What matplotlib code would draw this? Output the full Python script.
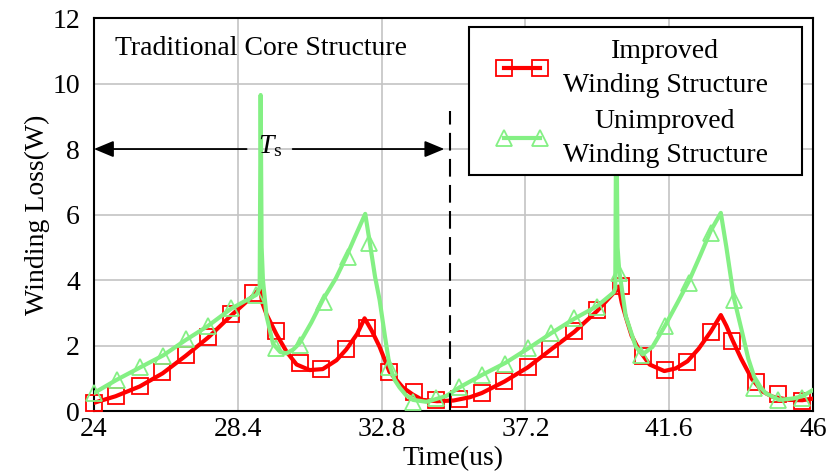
#Imports
import numpy as np
import matplotlib.pyplot as plt
from matplotlib.lines import Line2D
from matplotlib.patches import Rectangle

plt.rcParams['font.family'] = 'Liberation Serif'
plt.rcParams['mathtext.fontset'] = 'custom'
plt.rcParams['mathtext.rm'] = 'Liberation Serif'
plt.rcParams['mathtext.it'] = 'Liberation Serif:italic'

#Data
#Improved winding structure (red) - curve
Red_X = [24.0, 24.66, 25.4, 26.1, 26.8, 27.5, 28.2, 28.87, 29.08, 29.15, 29.28, 29.58, 29.9, 30.2,
         30.6, 31.0, 31.42, 31.72, 32.05, 32.28, 32.5, 32.74, 33.04, 33.45, 33.76, 34.05, 34.5,
         35.0, 35.5, 35.87, 36.56, 37.27, 37.96, 38.7, 39.39, 39.97, 40.05, 40.15, 40.27, 40.45,
         40.68, 41.0, 41.45, 41.8, 42.16, 42.5, 42.87, 43.18, 43.35, 43.53, 43.8, 44.13, 44.45,
         44.75, 45.27, 45.67, 46.0]
Red_Y = [0.25, 0.45, 0.75, 1.15, 1.68, 2.25, 2.92, 3.52, 3.75, 3.3, 2.95, 2.35, 1.8, 1.42,
         1.25, 1.28, 1.55, 1.88, 2.35, 2.83, 2.45, 1.96, 1.2, 0.72, 0.5, 0.34, 0.3,
         0.32, 0.42, 0.55, 0.9, 1.33, 1.86, 2.42, 3.05, 3.68, 3.8, 3.3, 2.88, 2.3,
         1.86, 1.42, 1.22, 1.3, 1.52, 1.9, 2.42, 2.93, 2.6, 2.18, 1.6, 0.98, 0.6,
         0.44, 0.34, 0.33, 0.38]
#Improved winding structure (red) - markers
Red_MX = [24.0, 24.66, 25.41, 26.09, 26.81, 27.5, 28.18, 28.87, 29.58, 30.29, 30.96, 31.72, 32.35,
          33.04, 33.79, 34.47, 35.18, 35.87, 36.56, 37.27, 37.96, 38.7, 39.39, 40.12, 40.79, 41.47,
          42.16, 42.87, 43.53, 44.25, 44.94, 45.67]
Red_MY = [0.25, 0.46, 0.76, 1.18, 1.71, 2.27, 2.95, 3.59, 2.44, 1.46, 1.27, 1.89, 2.54,
          1.19, 0.59, 0.34, 0.36, 0.56, 0.92, 1.35, 1.88, 2.44, 3.08, 3.82, 1.68, 1.25,
          1.49, 2.42, 2.15, 0.9, 0.52, 0.31]

#Unimproved winding structure (green) - curve
Green_X = [24.0, 24.69, 25.41, 26.12, 26.81, 27.49, 28.19, 28.97, 29.07, 29.1, 29.13, 29.17, 29.28,
           29.48, 29.7, 29.89, 30.1, 30.29, 30.65, 31.0, 31.4, 31.72, 32.0, 32.3, 32.43, 32.6,
           32.74, 32.9, 33.04, 33.2, 33.35, 33.55, 33.76, 34.17, 34.45, 34.78, 35.18, 35.87, 36.59,
           37.27, 37.98, 38.7, 39.39, 39.9, 39.95, 39.98, 40.02, 40.07, 40.27, 40.58, 40.79, 41.09,
           41.47, 41.85, 42.21, 42.55, 42.87, 43.18, 43.35, 43.58, 43.84, 44.02, 44.2, 44.4, 44.56,
           44.96, 45.37, 45.67, 46.0]
Green_Y = [0.55, 0.95, 1.33, 1.7, 2.17, 2.6, 3.12, 3.55, 3.75, 9.65, 5.0, 4.0, 2.9,
           2.05, 1.8, 1.76, 1.88, 2.07, 2.7, 3.39, 4.05, 4.71, 5.35, 6.02, 5.2, 4.1,
           3.39, 2.3, 1.4, 0.95, 0.72, 0.48, 0.34, 0.28, 0.36, 0.46, 0.72, 1.1, 1.47,
           1.9, 2.37, 2.82, 3.2, 3.62, 3.75, 9.6, 5.0, 4.3, 2.9, 1.96, 1.73, 1.96,
           2.6, 3.3, 3.98, 4.75, 5.5, 6.05, 5.0, 3.45, 2.37, 1.6, 1.05, 0.72, 0.54,
           0.34, 0.38, 0.45, 0.64]
#Unimproved winding structure (green) - markers
Green_MX = [24.0, 24.69, 25.41, 26.12, 26.81, 27.49, 28.19, 28.97, 29.58, 30.29, 31.04, 31.77, 32.43,
            33.04, 33.76, 34.45, 35.18, 35.87, 36.59, 37.27, 37.98, 38.7, 39.39, 40.07, 40.73, 41.47,
            42.21, 42.87, 43.58, 44.2, 44.94, 45.67]
Green_MY = [0.56, 0.95, 1.35, 1.68, 2.19, 2.6, 3.14, 3.54, 1.91, 2.02, 3.34, 4.71, 5.12,
            1.33, 0.28, 0.39, 0.74, 1.1, 1.45, 1.91, 2.37, 2.83, 3.18, 4.2, 1.71, 2.6,
            3.9, 5.43, 3.39, 0.69, 0.34, 0.39]

X_Ticks = [24, 28.4, 32.8, 37.2, 41.6, 46]
X_Tick_Labels = ['24', '28.4', '32.8', '37.2', '41.6', '46']
Y_Ticks = [0, 2, 4, 6, 8, 10, 12]
Labels = ['Improved\nWinding Structure', 'Unimproved\nWinding Structure']

#Period marker
Period_Start = 24.0
Period_End = 34.89
Arrow_Y = 8

Red = '#ff0000'
Green = '#84f084'

#Plotting:
fig = plt.figure(figsize=(8.39, 4.74), dpi=100)
ax = fig.add_axes([0.112, 0.1329, 0.857, 0.829])

ax.plot(Red_X, Red_Y, color=Red, lw=3, zorder=3)
ax.plot(Red_MX, Red_MY, ls='none', marker='s', ms=12, mfc='none', mec=Red, mew=1.3,
        clip_on=False, zorder=4)
ax.plot(Green_X, Green_Y, color=Green, lw=3, zorder=5)
ax.plot(Green_MX, Green_MY, ls='none', marker='^', ms=12, mfc='none', mec=Green, mew=1.3,
        clip_on=False, zorder=6)

ax.set_xlim(24, 46)
ax.set_ylim(0, 12)
ax.set_xticks(X_Ticks)
ax.set_xticklabels(X_Tick_Labels)
ax.set_yticks(Y_Ticks)
ax.tick_params(length=0, labelsize=20)
ax.tick_params(axis='x', pad=4)
ax.tick_params(axis='y', pad=10)
ax.grid(color='#c4c4c4', lw=1.2)
ax.set_axisbelow(True)
for s in ax.spines.values():
    s.set_linewidth(1.5)

ax.set_xlabel('Time(us)', fontsize=20)
ax.set_ylabel('Winding Loss(W)', fontsize=20)
ax.xaxis.set_label_coords(0.5, -0.09)
ax.yaxis.set_label_coords(-0.061, 0.5)

ax.text(24.64, 10.87, 'Traditional Core Structure', fontsize=20, va='baseline')

#Ts arrow
arrow = dict(arrowstyle='-|>,head_length=1.2,head_width=0.5', color='k', lw=1.3,
             shrinkA=0, shrinkB=0)
ax.annotate('', xy=(Period_Start, Arrow_Y), xytext=(28.67, Arrow_Y), arrowprops=arrow,
            annotation_clip=False, zorder=8)
ax.annotate('', xy=(Period_End - 0.17, Arrow_Y), xytext=(30.08, Arrow_Y), arrowprops=arrow,
            annotation_clip=False, zorder=8)
ax.text(29.38, Arrow_Y - 0.12, r'$T_\mathrm{s}$', fontsize=20, ha='center', va='baseline', zorder=10)
ax.plot([Period_End, Period_End], [0, 9.15], color='k', lw=1.5, ls='--', dashes=(8.5, 4), zorder=7)

#Legend: box drawn by hand, content without frame
ax.add_patch(Rectangle((0.5216, 0.60), 0.4634, 0.377, transform=ax.transAxes, facecolor='white',
                       edgecolor='k', lw=1.5, zorder=9, clip_on=False))
handles = [Line2D([0], [0], color=Red, lw=3, marker='s', ms=12, mfc='none', mec=Red, mew=1.3),
           Line2D([0], [0], color=Green, lw=3, marker='^', ms=12, mfc='none', mec=Green, mew=1.3)]
leg = ax.legend(handles, Labels, loc='upper left', bbox_to_anchor=(0.559, 0.947),
                fontsize=20, numpoints=2, handlelength=1.9, handletextpad=0.5,
                labelspacing=0.4, borderpad=0, borderaxespad=0, frameon=False)
leg.set_zorder(10)
for t in leg.get_texts():
    t.set_multialignment('center')
    t.set_linespacing(1.48)

plt.savefig('out.png', dpi=100)
